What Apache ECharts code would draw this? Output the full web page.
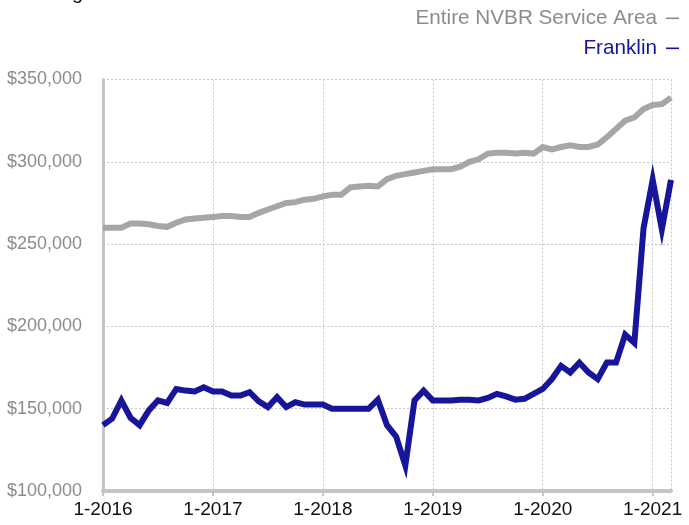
<!DOCTYPE html>
<html>
<head>
<meta charset="utf-8">
<script src="https://cdn.jsdelivr.net/npm/echarts@6/dist/echarts.min.js"></script>
<style>
html,body{margin:0;padding:0;background:#fff;}
#chart{width:689px;height:525px;}
</style>
</head>
<body>
<div id="chart"></div>
<script>
// Months Jan 2016 .. Mar 2021 (label "M-YYYY")
var months = [];
for (var y = 2016; y <= 2021; y++) {
  for (var m = 1; m <= 12; m++) {
    if (y === 2021 && m > 3) break;
    months.push(m + '-' + y);
  }
}
var seriesNames = ['Entire NVBR Service Area', 'Franklin'];
var yTicks = [100000, 150000, 200000, 250000, 300000, 350000];

var entireArea = [
  260000, 260000, 260000, 262500, 262500, 262000, 261000, 260500, 263000, 265000, 265500, 266000,
  266500, 267000, 267000, 266500, 266500, 269000, 271000, 273000, 275000, 275500, 277000, 277500,
  279000, 280000, 280000, 284500, 285000, 285500, 285000, 289500, 291500, 292500, 293500, 294500,
  295500, 295500, 295500, 297000, 300000, 301500, 305000, 305500, 305500, 305000, 305500, 305000,
  309000, 307500, 309000, 310000, 309000, 309000, 310500, 315000, 320000, 325000, 327000, 332000,
  334500, 335000, 339000
];
var franklin = [
  140000, 144000, 155000, 144500, 140000, 149000, 155000, 153500, 162000, 161000, 160500, 163000,
  160500, 160500, 158000, 158000, 160000, 154500, 151000, 157000, 151000, 154000, 152500, 152500,
  152500, 150000, 150000, 150000, 150000, 150000, 155500, 140000, 133000, 115500, 155000, 161000,
  155000, 155000, 155000, 155500, 155500, 155000, 156500, 159000, 157500, 155500, 156000, 159000,
  162000, 168000, 176000, 172000, 178000, 172000, 168000, 178000, 178000, 195000, 190000, 259500,
  289000, 259000, 289000
];

var colors = ['#a6a6a6', '#17169a'];
var legendTextColors = ['#8c8c8c', '#17169a'];
var FONT = '"Liberation Sans", Arial, Helvetica, sans-serif';

function yearIdx(i) { return i % 12 === 0; }

var chart = echarts.init(document.getElementById('chart'), null, {renderer: 'canvas'});
chart.setOption({
  animation: false,
  backgroundColor: '#ffffff',
  textStyle: {fontFamily: FONT},
  grid: {left: 103, right: 18, top: 79.5, bottom: 34, containLabel: false},
  graphic: [
    {type: 'text', left: 22, top: -17, style: {text: 'Rolling 12-Month Calculation', fill: '#111', font: '20px ' + FONT}},
    {type: 'text', right: 32, top: 8, style: {text: seriesNames[0], fill: legendTextColors[0], font: '20.7px ' + FONT}},
    {type: 'rect', shape: {x: 666, y: 17.5, width: 13, height: 1.6}, style: {fill: legendTextColors[0]}},
    {type: 'text', right: 32, top: 38, style: {text: seriesNames[1], fill: legendTextColors[1], font: '20.7px ' + FONT}},
    {type: 'rect', shape: {x: 666, y: 47.5, width: 13, height: 1.6}, style: {fill: legendTextColors[1]}}
  ],
  xAxis: {
    type: 'category',
    data: months,
    boundaryGap: false,
    axisLine: {show: true, lineStyle: {color: '#c4c4c4', width: 4}},
    axisTick: {show: true, interval: function (i) { return yearIdx(i); }, length: 5, lineStyle: {color: '#c4c4c4', width: 2}},
    axisLabel: {interval: function (i) { return yearIdx(i); }, color: '#111', fontSize: 19, margin: 9, fontFamily: FONT},
    splitLine: {show: true, interval: function (i) { return yearIdx(i) || i === months.length - 1; }, lineStyle: {color: '#c8c8c8', width: 1, type: [2, 2]}}
  },
  yAxis: {
    type: 'value',
    min: yTicks[0],
    max: yTicks[yTicks.length - 1],
    interval: 50000,
    axisLine: {show: true, lineStyle: {color: '#c4c4c4', width: 3}},
    axisTick: {show: false},
    axisLabel: {color: '#8c8c8c', fontSize: 18, margin: 21, fontFamily: FONT,
      formatter: function (v) { return '$' + v.toLocaleString('en-US'); }},
    splitLine: {show: true, lineStyle: {color: '#c8c8c8', width: 1, type: [2, 2]}}
  },
  series: [
    {name: seriesNames[0], type: 'line', data: entireArea, showSymbol: false, symbol: 'none',
      lineStyle: {color: colors[0], width: 6, join: 'miter'}, z: 2},
    {name: seriesNames[1], type: 'line', data: franklin, showSymbol: false, symbol: 'none',
      lineStyle: {color: colors[1], width: 6, join: 'miter'}, z: 3}
  ]
});
</script>
</body>
</html>
